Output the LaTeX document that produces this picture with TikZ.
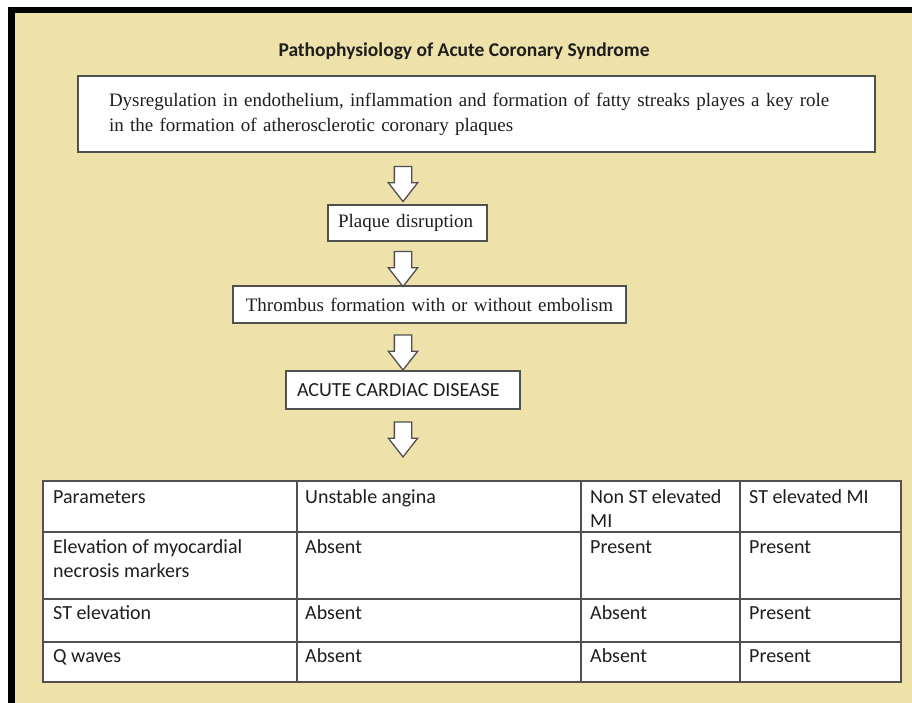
\documentclass[tikz,border=0pt]{standalone}
\usepackage{fontspec}
\usepackage{xcolor}
\usepackage{tikz}
\usetikzlibrary{positioning, shapes.arrows, calc}
\newfontfamily\bodysans{Carlito}
\newfontfamily\bodyserif{Liberation Serif}
\definecolor{panelbeige}{RGB}{238,225,170}
\definecolor{boxgray}{RGB}{80,80,80}
\definecolor{inkgray}{RGB}{30,30,30}

\begin{document}
\begin{tikzpicture}[x=1pt, y=-1pt,
    flowbox/.style={rectangle, draw=boxgray, line width=1.8pt, fill=white, inner ysep=0pt, text=inkgray, font=\bodyserif\fontsize{19}{25}\selectfont},
    blockarrow/.style={single arrow, draw=boxgray, fill=white, line width=1.3pt, rotate=-90, inner xsep=0pt, inner ysep=8pt, minimum height=35pt, single arrow head extend=6pt, single arrow tip angle=76},
    celltext/.style={anchor=base west, inner sep=0pt, align=flush left, text=inkgray, font=\bodysans\fontsize{20}{24}\selectfont},
    gridline/.style={draw=boxgray, line width=1.6pt}
]

% page and frame
\useasboundingbox (0,0) rectangle (912,703);
\fill[white] (0,0) rectangle (912,703);
\clip (0,0) rectangle (912,703);
\draw[line width=6.6pt, fill=panelbeige] (11.7,10) rectangle (940,730);

% title
\node[anchor=base, text=inkgray, font=\bodysans\bfseries\fontsize{19.5}{23}\selectfont] (title) at (464,57) {Pathophysiology of Acute Coronary Syndrome};

% flow boxes
\node[flowbox, minimum height=76pt, inner xsep=31pt, text width=735pt, align=left] (plaques) at (476.5,114) {Dysregulation in endothelium, inflammation and formation of fatty streaks playes a key role\\in the formation of atherosclerotic coronary plaques};
\node[flowbox, minimum height=36pt, inner xsep=10pt, text width=139pt, align=left] (disrupt) at (407.5,223) {Plaque disruption};
\node[flowbox, minimum height=37pt, inner xsep=10pt, text width=373pt, align=center] (thrombus) at (429.5,304.5) {Thrombus formation with or without embolism};
\node[flowbox, minimum height=38pt, inner xsep=11pt, text width=212pt, align=flush left, font=\bodysans\fontsize{20}{24}\selectfont] (acute) at (403,390) {ACUTE CARDIAC DISEASE};

% block arrows between the boxes
\node[blockarrow] (arrA) at ($(plaques.south -| acute)!0.5!(disrupt.north -| acute)$) {};
\node[blockarrow] (arrB) at ($(disrupt.south -| acute)!0.5!(thrombus.north -| acute)$) {};
\node[blockarrow] (arrC) at ($(thrombus.south -| acute)!0.5!(acute.north)$) {};
\node[blockarrow] (arrD) at ($(acute.south)+(0,24)$) {};

% table grid
\draw[gridline, fill=white] (43,481) rectangle (901,682);
\foreach \ry in {532,599,642} \draw[gridline] (43,\ry) -- (901,\ry);
\foreach \cx in {297,581,740} \draw[gridline] (\cx,481) -- (\cx,682);

% table header
\node[celltext] (param) at (53,503) {Parameters};
\node[celltext] (ua) at (305,503) {Unstable angina};
\node[celltext, text width=200pt] (nstemi) at (590,503) {Non ST elevated\\MI};
\node[celltext] (stemi) at (749,503) {ST elevated MI};

% table rows
\node[celltext, text width=240pt] (markers) at (53,553) {Elevation of myocardial\\necrosis markers};
\node[celltext] (uaMarkers) at (305,553) {Absent};
\node[celltext] (nstemiMarkers) at (590,553) {Present};
\node[celltext] (stemiMarkers) at (749,553) {Present};

\node[celltext] (stelev) at (53,619) {ST elevation};
\node[celltext] (uaStelev) at (305,619) {Absent};
\node[celltext] (nstemiStelev) at (590,619) {Absent};
\node[celltext] (stemiStelev) at (749,619) {Present};

\node[celltext] (qwaves) at (53,662) {Q waves};
\node[celltext] (uaQwaves) at (305,662) {Absent};
\node[celltext] (nstemiQwaves) at (590,662) {Absent};
\node[celltext] (stemiQwaves) at (749,662) {Present};

\end{tikzpicture}
\end{document}
